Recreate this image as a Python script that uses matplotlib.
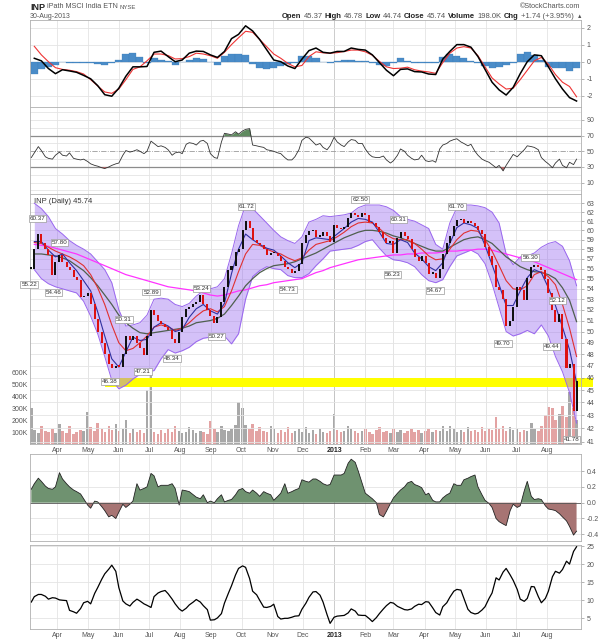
import numpy as np
import pandas as pd
import matplotlib
matplotlib.use("Agg")
import matplotlib.pyplot as plt
import matplotlib.dates as mdates
from matplotlib.patches import Rectangle
from matplotlib.ticker import FixedLocator, FuncFormatter, NullLocator

plt.rcParams['font.family'] = ['Liberation Sans', 'DejaVu Sans']

# ---------------- data ----------------
half_dates = pd.DatetimeIndex(sorted(
    list(pd.date_range('2012-03-06', '2013-08-30', freq='W-TUE')) +
    list(pd.date_range('2012-03-06', '2013-08-30', freq='W-FRI'))))
week_dates = pd.date_range('2012-03-09', '2013-08-30', freq='W-FRI')

close = [
    56.0, 58.0, 59.6, 58.7, 58.0, 57.4, 55.4, 56.7, 57.4, 56.7,
    56.2, 55.9, 55.2, 54.9, 53.2, 53.3, 53.6, 52.5, 51.1, 50.0,
    49.0, 48.0, 47.2, 46.8, 47.0, 46.9, 48.0, 49.6, 49.2, 49.6,
    49.0, 48.5, 47.9, 49.6, 52.0, 51.5, 51.0, 50.7, 50.4, 50.1,
    49.3, 49.0, 50.0, 51.3, 52.1, 52.3, 52.5, 52.7, 53.4, 52.5,
    52.0, 51.4, 50.8, 51.3, 52.7, 54.2, 55.9, 56.3, 57.7, 58.0,
    60.0, 61.0, 60.3, 59.0, 58.6, 58.4, 58.0, 57.4, 57.6, 57.6,
    57.3, 56.8, 56.2, 56.0, 55.6, 55.8, 56.5, 58.7, 59.5, 59.9,
    60.0, 59.3, 59.4, 59.8, 59.4, 58.8, 60.6, 60.2, 60.1, 60.4,
    61.3, 61.9, 61.7, 61.5, 61.9, 61.7, 60.9, 60.8, 60.4, 59.8,
    59.2, 58.6, 58.9, 57.6, 59.2, 59.8, 59.4, 59.1, 58.0, 57.2,
    56.8, 57.3, 56.6, 55.5, 55.6, 55.1, 56.0, 57.5, 58.7, 59.4,
    60.5, 61.1, 61.2, 60.8, 61.0, 60.8, 60.5, 60.0, 59.6, 58.2,
    57.3, 56.4, 54.2, 53.9, 53.0, 50.5, 51.0, 52.3, 54.2, 53.9,
    52.9, 55.1, 56.2, 56.4, 56.2, 55.9, 55.0, 53.6, 52.0, 50.9,
    51.6, 49.3, 46.8, 47.2, 43.3, 45.74]

volume_k = [
    300, 120, 90, 150, 110, 100, 130, 90, 170, 110,
    90, 150, 80, 100, 120, 110, 270, 140, 110, 180,
    130, 100, 150, 120, 170, 110, 130, 200, 90, 130,
    100, 120, 90, 450, 590, 100, 80, 120, 90, 130,
    100, 150, 110, 90, 100, 140, 120, 90, 110, 100,
    80, 190, 130, 100, 150, 120, 110, 130, 160, 350,
    300, 160, 130, 170, 110, 140, 110, 100, 150, 130,
    90, 120, 100, 140, 90, 110, 130, 100, 140, 90,
    120, 80, 130, 100, 90, 110, 250, 120, 100, 110,
    150, 130, 110, 90, 110, 130, 100, 80, 120, 140,
    100, 110, 90, 130, 100, 120, 90, 110, 130, 100,
    120, 90, 110, 130, 100, 120, 110, 150, 110, 150,
    130, 100, 120, 100, 140, 110, 120, 100, 140, 110,
    130, 120, 230, 130, 150, 110, 140, 120, 130, 100,
    120, 110, 180, 130, 110, 150, 240, 310, 300, 200,
    250, 320, 230, 440, 300, 200]

rsi = [
    42, 48, 56, 51, 43, 41, 40, 45, 49, 45,
    44, 48, 41, 40, 39, 40, 37, 34, 32, 31,
    29, 28, 30, 32, 34, 35, 45, 51, 49, 50,
    52, 50, 47, 50, 63, 60, 56, 57, 55, 52,
    45, 48, 49, 47, 59, 61, 60, 58, 63, 64,
    60, 47, 42, 41, 62, 73, 72, 71, 75, 72,
    76, 78, 79, 58, 57, 56, 55, 52, 51, 50,
    48, 47, 42, 39, 39, 43, 52, 64,
    68, 67, 62, 58, 60, 55, 52, 57, 68, 62,
    58, 56, 62, 65, 64, 60, 60, 53, 46, 43,
    42, 42, 44, 39, 35, 38, 45, 53, 50, 45,
    41, 39, 40, 45, 38, 37, 38, 36, 53, 58,
    60, 63, 65, 66, 62, 60, 57, 59, 50, 45,
    40, 38, 36, 33, 29, 32, 25, 32, 40, 46,
    43, 47, 52, 57, 56, 55, 52, 42, 37, 34,
    29, 35, 40, 32, 29, 36, 33, 40]

osc = [
    0.17, 0.24, 0.31, 0.27, 0.21, 0.18, 0.17, 0.20, 0.38, 0.30,
    0.24, 0.20, 0.16, 0.14, 0.11, 0.05, -0.03, -0.07, 0.02, 0.01,
    -0.05, -0.10, -0.18, -0.16, -0.20, -0.12, -0.02, -0.06, -0.02, 0.02,
    0.24, 0.16, 0.18, 0.20, 0.37, 0.34, 0.20, 0.22, 0.22, 0.22,
    0.24, 0.18, -0.03, 0.16, 0.15, 0.14, 0.10, 0.07, 0.05, 0.10,
    0.00, 0.02, 0.00, 0.05, 0.10, 0.01, 0.03, 0.04, 0.10, 0.16,
    0.18, 0.14, 0.12, 0.16, 0.12, 0.08, 0.14, 0.12, 0.10, 0.03,
    0.08, 0.12, 0.24, 0.12, 0.14, 0.16, 0.18, 0.29,
    0.27, 0.26, 0.30, 0.30, 0.27, 0.24, 0.22, 0.23, 0.35, 0.35,
    0.35, 0.37, 0.50, 0.55, 0.51, 0.40, 0.24, 0.12, 0.08, 0.05,
    0.00, -0.15, -0.18, -0.11, -0.01, 0.06, 0.12, 0.16, 0.20, 0.25,
    0.27, 0.23, 0.21, 0.19, 0.10, 0.12, 0.03, 0.01, 0.01, 0.06,
    0.10, 0.12, 0.24, 0.22, 0.22, 0.29, 0.31, 0.33, 0.35, 0.20,
    0.10, 0.03, -0.01, -0.06, -0.20, -0.24, -0.27, -0.29, -0.10, -0.02,
    -0.06, -0.04, 0.15, 0.27, 0.08, 0.04, 0.05, 0.04, -0.04, -0.08,
    -0.09, -0.10, -0.14, -0.18, -0.23, -0.30, -0.41, -0.36]

vola = [
    9.5, 11.0, 11.6, 11.6, 11.1, 10.3, 10.7, 10.6, 10.1, 10.0,
    9.9, 7.2, 6.8, 6.4, 7.7, 9.3, 9.7, 9.0, 11.9, 13.5,
    15.8, 17.3, 18.6, 19.7, 18.0, 13.5, 9.8, 9.0, 8.4, 9.4,
    10.3, 9.8, 9.0, 8.6, 8.0, 11.0, 12.0, 12.4, 12.7, 11.8,
    10.3, 9.0, 7.6, 7.0, 7.8, 8.7, 9.5, 10.2, 9.5, 8.5,
    7.4, 4.5, 4.6, 5.1, 6.3, 9.2, 12.0, 14.0, 17.0, 18.8,
    19.5, 19.1, 16.0, 12.5, 11.5, 10.0, 8.1, 8.0, 8.3, 8.9,
    5.5, 4.8, 5.0, 5.0, 5.3, 5.6, 5.7, 7.5,
    9.2, 10.8, 12.3, 12.4, 11.4, 9.5, 6.0, 3.6, 5.3, 5.6,
    5.7, 5.8, 6.5, 7.6, 7.0, 5.9, 5.8, 5.8, 4.9, 4.1,
    5.2, 6.3, 7.6, 8.5, 9.4, 9.2, 8.3, 7.9, 7.4, 7.3,
    7.6, 8.3, 8.9, 8.8, 9.6, 9.5, 7.9, 6.6, 5.9, 8.2,
    9.3, 10.8, 12.5, 13.0, 12.8, 10.5, 7.5, 6.6, 6.2, 6.4,
    7.3, 8.2, 10.5, 12.0, 16.2, 15.6, 17.8, 18.8, 17.0, 15.5,
    13.0, 10.3, 9.7, 10.5, 13.8, 13.7, 11.0, 9.3, 10.5, 12.5,
    16.5, 18.0, 17.5, 18.5, 20.8, 20.0, 23.5, 24.8]

bb_upper = [
    63.0, 62.4, 61.5, 60.2, 59.6, 58.9, 58.4, 58.0, 57.5, 56.7,
    55.9, 54.6, 52.0, 50.5, 50.6, 50.8, 51.5, 53.0, 53.1, 53.0,
    52.5, 52.3, 52.6, 53.3, 53.8, 54.0, 54.2, 55.0, 57.5, 60.5,
    62.8, 62.4, 61.6, 60.8, 60.0, 59.3, 58.9, 58.6, 59.3, 60.9,
    61.2, 61.6, 61.5, 61.6, 61.7, 61.9, 62.5, 62.8, 62.8, 62.8,
    62.6, 62.2, 61.5, 61.2, 61.0, 60.6, 60.2, 58.5, 58.0, 60.8,
    62.5, 62.8, 62.8, 62.7, 62.5, 62.0, 60.8, 57.5, 56.4, 57.2,
    57.3, 57.6, 58.2, 58.6, 58.8, 58.3, 56.8, 54.3]
bb_lower = [
    55.9, 55.0, 54.5, 54.2, 54.0, 53.8, 53.6, 52.8, 51.4, 49.8,
    47.8, 45.8, 45.1, 45.4, 45.9, 46.3, 46.5, 46.6, 47.6, 48.4,
    48.1, 48.3, 48.6, 49.1, 49.4, 49.5, 49.6, 49.6, 48.9, 49.8,
    53.0, 55.2, 55.8, 56.2, 56.0, 55.9, 55.3, 55.1, 55.1, 55.5,
    56.3, 57.0, 57.8, 57.9, 58.0, 58.1, 58.4, 58.8, 59.0, 58.1,
    57.3, 56.9, 56.8, 56.6, 56.2, 55.4, 54.8, 54.6, 54.9, 56.2,
    57.3, 57.6, 57.9, 57.5, 56.5, 54.5, 52.2, 50.0, 49.6, 49.8,
    50.1, 49.8, 50.6, 49.6, 47.8, 46.5, 44.8, 42.4]
ma_gray = [
    57.5, 57.5, 57.4, 57.3, 57.1, 56.8, 56.3, 55.8, 55.1, 54.3,
    53.4, 52.5, 51.5, 50.8, 50.3, 49.9, 49.8, 49.9, 50.0, 50.1,
    50.2, 50.3, 50.5, 50.8, 50.9, 51.0, 51.2, 51.6, 52.4, 53.3,
    54.3, 55.0, 55.6, 56.0, 56.3, 56.4, 56.5, 56.7, 57.0, 57.3,
    57.6, 58.0, 58.4, 58.8, 59.2, 59.5, 59.8, 60.0, 60.0, 59.9,
    59.7, 59.4, 59.2, 58.9, 58.6, 58.3, 58.0, 57.8, 57.8, 58.2,
    58.6, 59.0, 59.2, 59.3, 59.0, 58.6, 57.9, 57.2, 56.7, 56.2,
    55.9, 55.7, 55.6, 55.4, 55.0, 54.1, 52.9, 50.9]
ma_red = [
    58.7, 58.6, 58.2, 57.8, 57.5, 57.2, 56.8, 56.3, 55.4, 54.1,
    52.5, 50.6, 49.0, 48.3, 48.5, 49.0, 49.6, 50.4, 50.6, 50.4,
    50.1, 50.3, 50.8, 51.4, 51.9, 52.1, 51.8, 52.3, 53.8, 55.7,
    57.5, 58.5, 58.4, 58.0, 57.7, 57.5, 57.1, 56.8, 57.1, 57.9,
    58.5, 58.7, 58.9, 59.3, 59.8, 60.4, 60.8, 60.9, 60.8, 60.2,
    59.5, 59.1, 59.0, 59.0, 58.6, 58.0, 57.3, 56.9, 57.0, 58.0,
    59.0, 59.7, 60.0, 59.9, 59.0, 57.8, 56.3, 54.8, 54.0, 53.9,
    54.3, 55.4, 55.7, 55.2, 54.4, 52.5, 50.3, 47.8]
ma_blue = [
    58.8, 58.8, 57.9, 57.2, 57.5, 56.6, 55.8, 54.8, 53.8, 51.8,
    49.6, 47.6, 46.9, 48.2, 49.5, 49.2, 49.3, 50.4, 50.8, 50.5,
    50.0, 50.2, 51.3, 52.1, 52.5, 51.9, 51.6, 52.6, 55.5, 58.0,
    59.6, 59.0, 58.5, 58.1, 57.9, 57.3, 56.6, 56.1, 56.6, 58.9,
    59.2, 59.1, 59.0, 59.6, 60.2, 60.9, 61.3, 61.2, 60.9, 59.8,
    58.6, 58.5, 59.0, 58.7, 57.6, 57.0, 56.2, 55.8, 56.6, 58.6,
    60.3, 60.8, 60.6, 60.2, 58.4, 56.4, 54.4, 52.4, 52.4, 53.8,
    55.1, 55.9, 55.6, 54.1, 52.4, 50.4, 48.4, 45.6]
ma_200 = [
    58.5, 58.4, 58.3, 58.1, 57.9, 57.7, 57.5, 57.2, 56.9, 56.6,
    56.3, 56.0, 55.7, 55.4, 55.2, 55.0, 54.8, 54.6, 54.4, 54.2,
    54.1, 54.0, 53.9, 53.8, 53.6, 53.4, 53.3, 53.4, 53.6, 53.8,
    53.9, 54.1, 54.3, 54.4, 54.6, 54.7, 54.8, 54.9, 55.0, 55.3,
    55.6, 55.8, 56.1, 56.3, 56.5, 56.7, 56.9, 57.0, 57.1, 57.2,
    57.3, 57.4, 57.4, 57.5, 57.5, 57.6, 57.6, 57.6, 57.7, 57.8,
    57.8, 57.9, 57.9, 58.0, 58.0, 57.9, 57.7, 57.5, 57.3, 57.1,
    56.9, 56.7, 56.4, 56.1, 55.8, 55.5, 55.2, 54.9]
macd = [
    0.2, 0.05, -0.4, -0.7, -0.47, -0.54, -0.62, -0.8, -1.0, -1.4,
    -1.93, -2.02, -1.55, -0.85, -0.3, -0.3, -0.28, 0.55, 0.62, 0.3,
    0.0, 0.1, 0.5, 0.62, 0.6, 0.4, 0.25, 0.6, 1.35, 1.6,
    2.1, 1.8, 1.3, 0.7, 0.1, 0.0, -0.25, -0.4, 0.15, 0.65,
    0.8, 0.55, 0.5, 0.6, 0.6, 0.8, 0.72, 0.68, 0.4, -0.05,
    -0.5, -0.82, -0.45, -0.42, -0.58, -0.6, -0.72, -0.75, 0.15, 0.6,
    1.0, 1.0, 0.85, 0.3, -0.45, -1.2, -1.65, -1.95, -1.5, -0.7,
    0.0, 0.4, 0.35, -0.3, -1.0, -1.6, -2.1, -2.3]
macd_signal = [
    0.9, 0.4, 0.0, -0.35, -0.45, -0.5, -0.58, -0.72, -1.05, -1.42,
    -1.77, -1.85, -1.6, -1.05, -0.45, -0.3, 0.05, 0.45, 0.45, 0.36,
    0.16, 0.18, 0.3, 0.5, 0.45, 0.35, 0.2, 0.55, 1.0, 1.4,
    1.78, 1.72, 1.3, 0.88, 0.45, 0.2, -0.1, -0.3, -0.22, 0.3,
    0.58, 0.52, 0.5, 0.53, 0.6, 0.68, 0.68, 0.58, 0.38, 0.02,
    -0.3, -0.4, -0.38, -0.32, -0.47, -0.55, -0.6, -0.68, -0.05, 0.5,
    0.8, 0.88, 0.8, 0.35, -0.3, -0.95, -1.3, -1.6, -1.55, -1.05,
    -0.5, 0.05, 0.25, -0.15, -0.75, -1.2, -1.45, -2.05]
macd_hist = [
    -0.7, -0.4, -0.3, -0.2, 0.0, -0.05, -0.05, -0.1, -0.1, -0.15,
    -0.2, -0.05, 0.1, 0.45, 0.5, 0.3, -0.1, 0.2, 0.1, 0.05,
    -0.2, 0.0, 0.1, 0.2, 0.15, 0.0, -0.2, 0.35, 0.45, 0.45,
    0.4, -0.15, -0.35, -0.4, -0.35, -0.25, -0.15, -0.1, 0.35, 0.35,
    0.2, 0.0, -0.05, 0.05, 0.1, 0.1, 0.05, 0.05, -0.05, -0.2,
    -0.25, -0.1, 0.2, 0.05, -0.1, -0.05, -0.1, -0.05, 0.25, 0.45,
    0.35, 0.2, 0.05, -0.1, -0.25, -0.35, -0.3, -0.2, -0.05, 0.45,
    0.55, 0.4, 0.1, -0.3, -0.35, -0.35, -0.55, -0.35]

label_dates = ['2012-03-12', '2012-04-03', '2012-03-04', '2012-03-28', '2012-06-06',
               '2012-05-23', '2012-06-25', '2012-07-03', '2012-07-24', '2012-08-22',
               '2012-09-06', '2012-10-06', '2012-11-16', '2013-01-27', '2013-02-28',
               '2013-03-06', '2013-04-11', '2013-05-03', '2013-06-18', '2013-07-15',
               '2013-08-05', '2013-08-11', '2013-08-25']
label_values = [60.37, 57.80, 55.22, 54.46, 50.31, 46.38, 47.21, 52.89, 48.34, 53.24,
                50.27, 61.72, 54.73, 62.50, 56.23, 60.31, 54.67, 61.70, 49.70, 56.30,
                49.44, 52.12, 41.78]
label_kind = ['hi', 'hi', 'lo', 'lo', 'hi', 'lo', 'lo', 'hi', 'lo', 'hi',
              'lo', 'hi', 'lo', 'hi', 'lo', 'hi', 'lo', 'hi', 'lo', 'hi',
              'lo', 'hi', 'lo']

month_ticks = pd.date_range('2012-04-01', '2013-08-01', freq='MS')
month_labels = ['Apr', 'May', 'Jun', 'Jul', 'Aug', 'Sep', 'Oct', 'Nov', 'Dec', '2013',
                'Feb', 'Mar', 'Apr', 'May', 'Jun', 'Jul', 'Aug']

header_quote = [('Open', '45.37'), ('High', '46.78'), ('Low', '44.74'), ('Close', '45.74'),
                ('Volume', '198.0K'), ('Chg', '+1.74 (+3.95%)')]

# ---------------- setup ----------------
close = np.array(close); volume_k = np.array(volume_k); rsi = np.array(rsi, float)
osc = np.array(osc); vola = np.array(vola)
xh = mdates.date2num(half_dates)
xw = mdates.date2num(week_dates)
xm = mdates.date2num(month_ticks)
x0 = mdates.date2num(pd.Timestamp('2012-03-04 17:00'))
x1 = x0 + 547.7
jan_x = mdates.date2num(pd.Timestamp('2013-01-01'))

W, H = 606, 640
fig = plt.figure(figsize=(W / 100, H / 100), dpi=100)
fig.patch.set_facecolor('white')
renderer = fig.canvas.get_renderer()

TXT = '#555555'
GRID = '#e4e4e4'


def pos(top, bottom):
    return [30 / W, 1 - bottom / H, 551 / W, (bottom - top) / H]


def style(ax, hgrid):
    for s in ax.spines.values():
        s.set_color('#b0b0b0')
        s.set_linewidth(0.6)
    ax.set_xlim(x0, x1)
    ax.yaxis.tick_right()
    ax.tick_params(axis='y', labelsize=5, labelcolor=TXT, color='#999999',
                   length=2, width=0.5, pad=2)
    ax.set_xticks(xm)
    ax.set_xticklabels([])
    ax.tick_params(axis='x', length=0, labelsize=5, labelcolor=TXT, pad=2)
    for m in xm:
        ax.axvline(m, color='#c4c4c4' if m == jan_x else GRID, lw=0.6, zorder=0)
    for h in hgrid:
        ax.axhline(h, color=GRID, lw=0.6, zorder=0)


def month_labels_on(ax):
    ax.set_xticklabels(month_labels)
    for i, t in enumerate(ax.get_xticklabels()):
        if month_labels[i] == '2013':
            t.set_fontweight('bold')
            t.set_color('#222222')


def ftxt(x, y, s, **kw):
    return fig.text(x / W, 1 - y / H, s, va='center', **kw)


def width_px(t):
    return t.get_window_extent(renderer=renderer).width


# ---------------- header ----------------
t = ftxt(30, 7, 'INP', fontsize=6.5, fontweight='bold', color='#222222')
xx = 30 + width_px(t) + 2
t = ftxt(xx, 7, 'iPath MSCI India ETN', fontsize=5.2, color=TXT)
xx += width_px(t) + 2
ftxt(xx, 7.5, 'NYSE', fontsize=4.3, color=TXT)
ftxt(30, 16, '30-Aug-2013', fontsize=5.0, color=TXT)
ftxt(580, 7, '\u00a9StockCharts.com', fontsize=5.2, color=TXT, ha='right')

# quote line, laid out right-to-left so that it ends at the right edge
pieces = []
for lab, val in header_quote:
    pieces.append((lab, True))
    pieces.append((val, False))
pieces.append(('\u25b2', False))
xr = 582
for txt, bold in reversed(pieces):
    t = ftxt(xr, 16, txt, fontsize=5.5 if txt != '\u25b2' else 4,
             fontweight='bold' if bold else 'normal',
             color='#222222' if bold else TXT, ha='right')
    xr -= width_px(t) + (2.6 if not bold else 1.9)

# ---------------- MACD panel ----------------
ax1 = fig.add_axes(pos(20, 107))
style(ax1, [-2, -1, 0, 1, 2])
ax1.bar(xw, macd_hist, width=7.0, color='#4a8cc8', edgecolor='#3a7cb8', lw=0.2, zorder=1)
ax1.plot(xw, macd_signal, color='#ee3333', lw=0.8, zorder=2)
ax1.plot(xw, macd, color='black', lw=1.1, zorder=3)
ax1.set_ylim(-2.65, 2.44)
ax1.set_yticks([-2, -1, 0, 1, 2])
ax1.set_yticklabels(['-2', '-1', '0', '1', '2'])

# ---------------- RSI panel ----------------
ax2 = fig.add_axes(pos(107, 193.5))
style(ax2, [0, 10, 20, 40, 60, 80, 90, 100])
ax2.axhline(70, color='#8c8c8c', lw=0.9, zorder=1)
ax2.axhline(30, color='#8c8c8c', lw=0.9, zorder=1)
ax2.axhline(50, color='#9a9a9a', lw=0.6, ls='-.', zorder=1)
ax2.fill_between(xh, rsi, 70, where=rsi >= 70, interpolate=True, color='#5f8a5f', lw=0, zorder=2)
ax2.fill_between(xh, rsi, 30, where=rsi <= 30, interpolate=True, color='#b36a6a', lw=0, zorder=2)
ax2.plot(xh, rsi, color='#333333', lw=0.6, zorder=3)
ax2.set_ylim(-3.9, 106.6)
ax2.set_yticks([10, 30, 50, 70, 90])

# ---------------- main price panel ----------------
mpos = pos(194, 444)
axv = fig.add_axes(mpos, zorder=0)
axv.set_xlim(x0, x1)
axv.set_ylim(0, 2100)
for s in axv.spines.values():
    s.set_visible(False)
for m in xm:
    axv.axvline(m, color='#c4c4c4' if m == jan_x else GRID, lw=0.6, zorder=0)
vcol = ['#a8a8a8'] + ['#e3a3a3' if close[i] < close[i - 1] else '#a8a8a8' for i in range(1, len(close))]
axv.bar(xh, volume_k, width=2.4, color=vcol, lw=0, zorder=1)
axv.set_xticks([])
axv.set_yticks([100, 200, 300, 400, 500, 600])
axv.set_yticklabels(['100K', '200K', '300K', '400K', '500K', '600K'])
axv.tick_params(axis='y', labelsize=5, labelcolor=TXT, length=0, pad=1.5)

ax = fig.add_axes(mpos, zorder=1)
ax.patch.set_alpha(0)
ax.set_yscale('log')
ax.set_ylim(40.83, 64.06)
style(ax, list(range(41, 64)))
ax.yaxis.set_major_locator(FixedLocator(list(range(41, 64))))
ax.yaxis.set_major_formatter(FuncFormatter(lambda v, p: '%d' % round(v)))
ax.yaxis.set_minor_locator(NullLocator())
ax.tick_params(axis='y', which='both', labelsize=5, labelcolor=TXT, length=2, width=0.5, pad=2)
month_labels_on(ax)

yb0 = mdates.date2num(pd.Timestamp('2012-05-18'))
ax.add_patch(Rectangle((yb0, 45.25), (x1 + 12) - yb0, 0.70, facecolor='#ffff00',
                       edgecolor='none', zorder=1, clip_on=False))
ax.fill_between(xw, bb_lower, bb_upper, color='#9a6cf0', alpha=0.42, lw=0, zorder=2)
ax.plot(xw, bb_upper, color='#9966ee', lw=0.7, zorder=2)
ax.plot(xw, bb_lower, color='#9966ee', lw=0.7, zorder=2)
ax.plot(xw, ma_200, color='#ff33ff', lw=0.9, zorder=3)
ax.plot(xw, ma_gray, color='#4f5f4f', lw=0.9, zorder=3)
ax.plot(xw, ma_red, color='#e03030', lw=0.8, zorder=3)
ax.plot(xw, ma_blue, color='#3030a0', lw=0.8, zorder=3)

opens = np.r_[close[0], close[:-1]]
for i in range(len(close)):
    lo, hi = min(opens[i], close[i]), max(opens[i], close[i])
    if hi - lo < 0.15:
        hi = lo + 0.15
    c = '#dd1111' if close[i] < opens[i] else '#111111'
    ax.bar(xh[i], hi - lo, bottom=lo, width=2.0, color=c, lw=0, zorder=4)

for d, v, k in zip(label_dates, label_values, label_kind):
    ax.annotate('%.2f' % v, xy=(mdates.date2num(pd.Timestamp(d)), v),
                xytext=(0, 6 if k == 'hi' else -6), textcoords='offset points',
                ha='center', va='center', fontsize=4.5, color='#333333', zorder=6,
                annotation_clip=False,
                bbox=dict(boxstyle='square,pad=0.15', fc='white', ec='#9a9a9a', lw=0.5))
ax.text(0.008, 0.985, 'INP (Daily) 45.74', transform=ax.transAxes, fontsize=5.5,
        color='#333333', va='top', ha='left', zorder=7)

# ---------------- oscillator panel ----------------
ax3 = fig.add_axes(pos(454, 540.7))
style(ax3, [-0.4, -0.2, 0.2, 0.4])
ax3.fill_between(xh, osc, 0, where=osc >= 0, interpolate=True, color='#6f9270', lw=0, zorder=1)
ax3.fill_between(xh, osc, 0, where=osc <= 0, interpolate=True, color='#a77473', lw=0, zorder=1)
ax3.plot(xh, osc, color='#222222', lw=0.6, zorder=2)
ax3.axhline(0, color='#555555', lw=0.6, zorder=2)
ax3.set_ylim(-0.481, 0.616)
ax3.set_yticks([-0.4, -0.2, 0.0, 0.2, 0.4])
ax3.set_yticklabels(['-0.4', '-0.2', '0.0', '0.2', '0.4'])

# ---------------- bottom panel ----------------
ax4 = fig.add_axes(pos(545, 629.3))
style(ax4, [5, 10, 15, 20, 25])
ax4.plot(xh, vola, color='black', lw=0.9, zorder=2)
ax4.set_ylim(1.96, 25.28)
ax4.set_yticks([5, 10, 15, 20, 25])
month_labels_on(ax4)

fig.savefig('out.png', dpi=100, facecolor='white')
